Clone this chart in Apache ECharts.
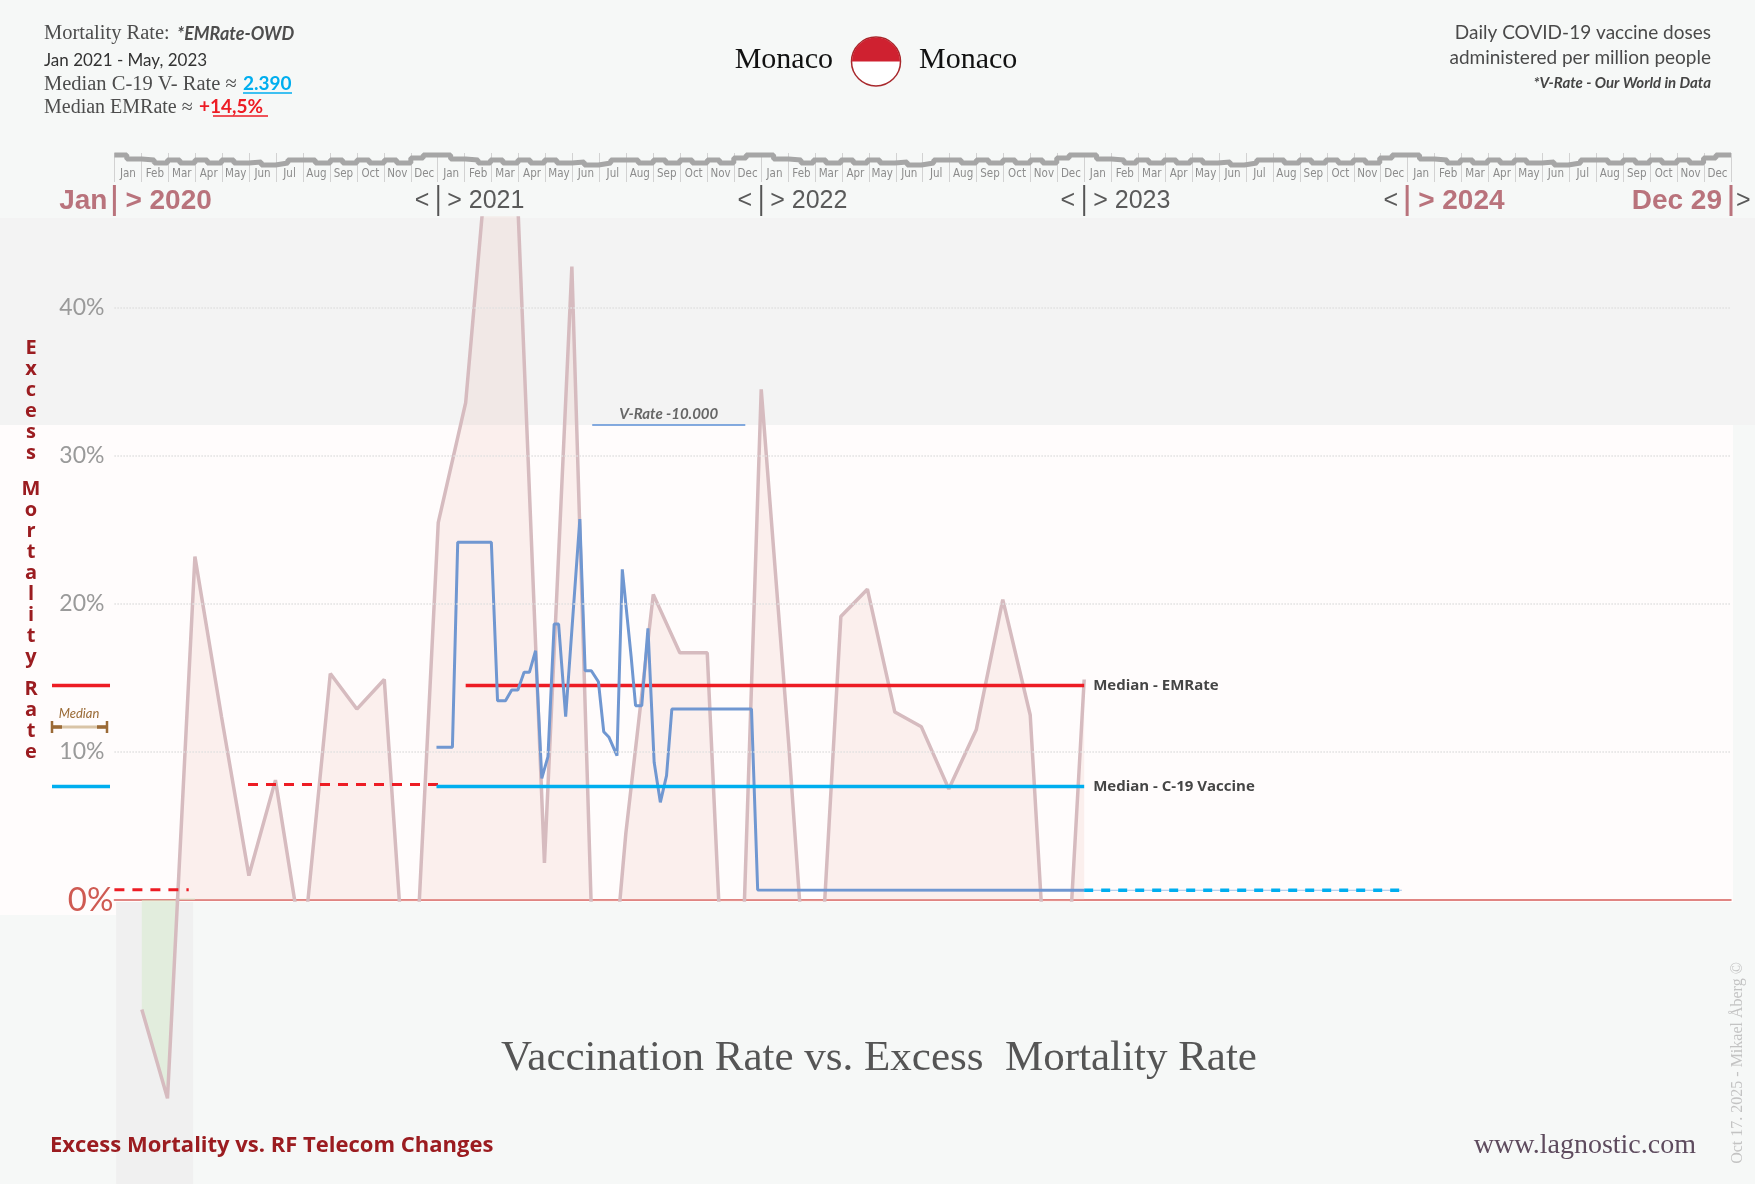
<!DOCTYPE html>
<html>
<head>
<meta charset="utf-8">
<title>Monaco - Vaccination Rate vs. Excess Mortality Rate</title>
<script src="https://cdn.jsdelivr.net/npm/echarts@6/dist/echarts.min.js"></script>
<style>
html, body { margin: 0; padding: 0; background: #f6f8f7; }
#chart { width: 1755px; height: 1184px; }
</style>
</head>
<body>
<div id="chart"></div>
<script>
// excess mortality rate (%), one point per month
var emDates = ['2020-02-01', '2020-03-01', '2020-04-01', '2020-05-01', '2020-06-01', '2020-07-01',
    '2020-08-01', '2020-09-01', '2020-10-01', '2020-11-01', '2020-12-01', '2021-01-01',
    '2021-02-01', '2021-03-01', '2021-04-01', '2021-05-01', '2021-06-01', '2021-07-01',
    '2021-08-01', '2021-09-01', '2021-10-01', '2021-11-01', '2021-12-01', '2022-01-01',
    '2022-02-01', '2022-03-01', '2022-04-01', '2022-05-01', '2022-06-01', '2022-07-01',
    '2022-08-01', '2022-09-01', '2022-10-01', '2022-11-01', '2022-12-01', '2023-01-01'];
var emValues = [-7.4, -13.4, 23.2, 12.4, 1.65, 8.1,
    -3.5, 15.3, 12.9, 14.9, -11.5, 25.5,
    33.6, 52.7, 46.9, 2.5, 42.8, -16.5,
    4.5, 20.65, 16.7, 16.7, -22, 34.5,
    10.6, -13.5, 19.15, 21.0, 12.7, 11.7,
    7.5, 11.5, 20.3, 12.5, -18, 14.9];

// daily covid-19 vaccine doses per million people
var vacDates = ['2020-12-30', '2021-01-17', '2021-01-23', '2021-03-02', '2021-03-09', '2021-03-18',
    '2021-03-25', '2021-04-01', '2021-04-08', '2021-04-14', '2021-04-21', '2021-04-28',
    '2021-05-05', '2021-05-12', '2021-05-17', '2021-05-25', '2021-05-27', '2021-06-10',
    '2021-06-16', '2021-06-23', '2021-07-01', '2021-07-07', '2021-07-13', '2021-07-22',
    '2021-07-28', '2021-08-07', '2021-08-12', '2021-08-19', '2021-08-26', '2021-09-02',
    '2021-09-09', '2021-09-16', '2021-09-22', '2021-12-21', '2021-12-28', '2023-01-01'];
var vacValues = [3214, 3214, 7530, 7530, 4196, 4196,
    4420, 4420, 4793, 4793, 5248, 2562,
    3017, 5810, 5810, 3859, 3859, 8020,
    4827, 4827, 4595, 3543, 3425, 3038,
    6961, 5122, 4090, 4090, 5719, 2899,
    2057, 2617, 4021, 4021, 210, 205];

// medians and reference levels
var emMedian = 14.5;
var emMedian2020 = 7.8;
var emMedianEarly = 0.7;
var vacMedian = 2390;
var vacTail = 205;
var vacRef = 10000;

var monthNames = ['Jan', 'Feb', 'Mar', 'Apr', 'May', 'Jun', 'Jul', 'Aug', 'Sep', 'Oct', 'Nov', 'Dec'];
var years = [2020, 2021, 2022, 2023, 2024];
// ruler band level for each month: [first half, second half]
var rulerLevels = [[7.5, 5.5], [5, 3.5], [5, 3.5], [5, 3.5], [5, 3.5], [4, 2.5],
    [3.5, 5], [5, 3.5], [5, 3.5], [5, 3.5], [5, 3.5], [6, 7.5]];

var SERIF = "'Liberation Serif', 'DejaVu Serif', serif";
var SANS = "Lato, 'Open Sans', sans-serif";
var HEAVY = "'Open Sans', Lato, sans-serif";
var ARIAL = "'Liberation Sans', Arial, sans-serif";
var MAUVE = '#b9737c';
var PINK = '#d6bbbf';

function zip(a, b) {
    return a.map(function (d, i) { return [d, b[i]]; });
}
function pad(n) { return n < 10 ? '0' + n : '' + n; }

var rulerData = [];
var monthCats = [];
years.forEach(function (y) {
    monthNames.forEach(function (m, i) {
        monthCats.push(m);
        rulerData.push([y + '-' + pad(i + 1) + '-01', rulerLevels[i][0]]);
        rulerData.push([y + '-' + pad(i + 1) + '-15', rulerLevels[i][1]]);
    });
});
rulerData.push(['2025-01-01', rulerLevels[0][0]]);

var X_MIN = '2020-01-01', X_MAX = '2025-01-01';
var EM_MAX = 46.08;
var VAC_MAX = 14358;

var chart = echarts.init(document.getElementById('chart'));

var option = {
    backgroundColor: '#f6f8f7',
    animation: false,
    grid: [
        {left: 114.4, right: 24, top: 218, height: 682},
        {left: 114.4, right: 24, top: 900, height: 284},
        {left: 114.4, right: 24, top: 150, height: 20},
        {left: 114.4, right: 24, top: 153, height: 29}
    ],
    xAxis: [
        {type: 'time', gridIndex: 0, min: X_MIN, max: X_MAX,
            axisLine: {show: true, lineStyle: {color: '#d65e5a', width: 1.5}},
            axisTick: {show: false}, axisLabel: {show: false}, splitLine: {show: false}},
        {type: 'time', gridIndex: 1, min: X_MIN, max: X_MAX, show: false},
        {type: 'time', gridIndex: 2, min: X_MIN, max: X_MAX, show: false},
        {type: 'category', gridIndex: 3, data: monthCats, boundaryGap: true,
            axisLine: {show: false}, axisTick: {show: false},
            splitLine: {show: true, lineStyle: {color: '#d2d2d2', width: 1}},
            axisLabel: {inside: true, interval: 0, margin: 2, fontSize: 11.5, color: '#8c8c8c',
                fontFamily: "'Liberation Sans Narrow', 'DejaVu Sans Condensed', sans-serif"}}
    ],
    yAxis: [
        {type: 'value', gridIndex: 0, min: 0, max: EM_MAX, interval: 10,
            axisLine: {show: false}, axisTick: {show: false}, splitLine: {show: false},
            axisLabel: {
                margin: 1,
                formatter: function (v) {
                    if (v === 0) return '{z|0%}';
                    return v % 10 === 0 ? '{n|' + v + '%}' : '';
                },
                rich: {
                    n: {fontSize: 23, color: '#9a9a9a', fontFamily: SANS, padding: [0, 9, 0, 0]},
                    z: {fontSize: 33, color: '#cf5a52', fontFamily: SANS}
                }
            }},
        {type: 'value', gridIndex: 0, min: 0, max: VAC_MAX, show: false},
        {type: 'value', gridIndex: 1, min: -19.19, max: 0, show: false},
        {type: 'value', gridIndex: 2, min: 0, max: 10, show: false},
        {type: 'value', gridIndex: 3, min: 0, max: 1, show: false}
    ],
    series: [
        {
            name: 'EMRate', type: 'line', xAxisIndex: 0, yAxisIndex: 0, z: 2,
            data: zip(emDates, emValues), symbol: 'none',
            lineStyle: {color: PINK, width: 3.5},
            areaStyle: {color: 'rgba(236,196,188,0.32)'},
            markLine: {
                silent: true, symbol: ['none', 'none'], label: {show: false},
                lineStyle: {type: 'dotted', color: '#e0e0e0', width: 1.5},
                data: [{yAxis: 10}, {yAxis: 20}, {yAxis: 30}, {yAxis: 40}]
            }
        },
        {
            name: 'EMRate 2020 below zero', type: 'line', xAxisIndex: 1, yAxisIndex: 2, z: 2,
            data: zip(emDates.slice(0, 3), emValues.slice(0, 3)), symbol: 'none',
            lineStyle: {color: PINK, width: 3.5},
            areaStyle: {color: 'rgba(214,234,204,0.75)', origin: 'end'}
        },
        {
            name: 'Median EMRate 2020 early', type: 'line', xAxisIndex: 0, yAxisIndex: 0, z: 3,
            data: [['2020-01-01', emMedianEarly], ['2020-03-25', emMedianEarly]], symbol: 'none',
            lineStyle: {color: '#ed1c24', width: 3, type: [10, 8]}
        },
        {
            name: 'Median EMRate 2020', type: 'line', xAxisIndex: 0, yAxisIndex: 0, z: 3,
            data: [['2020-05-31', emMedian2020], ['2021-01-01', emMedian2020]], symbol: 'none',
            lineStyle: {color: '#ed1c24', width: 3, type: [10, 8]}
        },
        {
            name: 'Median - EMRate', type: 'line', xAxisIndex: 0, yAxisIndex: 0, z: 3,
            data: [['2021-02-01', emMedian], ['2023-01-01', emMedian]], symbol: 'none',
            lineStyle: {color: '#ed1c24', width: 3.5},
            endLabel: {show: true, formatter: 'Median - EMRate', distance: 9,
                color: '#454545', fontSize: 15, fontWeight: 'bold', fontFamily: HEAVY}
        },
        {
            name: 'V-Rate', type: 'line', xAxisIndex: 0, yAxisIndex: 1, z: 4,
            data: zip(vacDates, vacValues), symbol: 'none',
            lineStyle: {color: '#7097d1', width: 3},
            markLine: {
                silent: true, symbol: ['none', 'none'],
                lineStyle: {color: '#5b8fd6', width: 1.5, type: 'solid'},
                label: {show: true, position: 'middle', formatter: 'V-Rate -10.000', distance: 3,
                    color: '#666', fontSize: 15, fontStyle: 'italic', fontWeight: 'bold', fontFamily: SANS},
                data: [[{coord: ['2021-06-24', vacRef]}, {coord: ['2021-12-14', vacRef]}]]
            }
        },
        {
            name: 'Median - C-19 Vaccine', type: 'line', xAxisIndex: 0, yAxisIndex: 1, z: 5,
            data: [['2020-12-30', vacMedian], ['2023-01-01', vacMedian]], symbol: 'none',
            lineStyle: {color: '#00aeef', width: 3.5},
            endLabel: {show: true, formatter: 'Median - C-19 Vaccine', distance: 9,
                color: '#454545', fontSize: 15, fontWeight: 'bold', fontFamily: HEAVY}
        },
        {
            name: 'V-Rate tail thin', type: 'line', xAxisIndex: 0, yAxisIndex: 1, z: 5,
            data: [['2023-01-01', vacTail], ['2023-12-26', vacTail]], symbol: 'none',
            lineStyle: {color: '#9fc3ea', width: 1.2}
        },
        {
            name: 'V-Rate tail', type: 'line', xAxisIndex: 0, yAxisIndex: 1, z: 5,
            data: [['2023-01-01', vacTail], ['2023-12-26', vacTail]], symbol: 'none',
            lineStyle: {color: '#00aeef', width: 3.5, type: [9, 8]}
        },
        {
            name: 'ruler', type: 'line', xAxisIndex: 2, yAxisIndex: 3, z: 2,
            data: rulerData, symbol: 'none', step: 'end',
            lineStyle: {color: '#a6a6a6', width: 5}
        }
    ]
};

chart.setOption(option);

// ----- decoration placed through the chart's own scales -----
var px = function (d, v) { return chart.convertToPixel({gridIndex: 0}, [d, v]); };
var xOf = function (d) { return px(d, 0)[0]; };
var yEm = function (v) { return chart.convertToPixel({yAxisIndex: 0}, v); };
var yVac = function (v) { return chart.convertToPixel({yAxisIndex: 1}, v); };

function txt(x, y, s, o) {
    o = o || {};
    return {
        type: 'text', z: 20, x: x, y: y, rotation: o.rotation || 0,
        style: {
            text: s, x: 0, y: 0,
            fill: o.color || '#444',
            fontSize: o.size || 18,
            fontFamily: o.family || SANS,
            fontWeight: o.weight || 'normal',
            fontStyle: o.style || 'normal',
            textAlign: o.align || 'left',
            textVerticalAlign: o.valign || 'middle',
            lineHeight: o.lineHeight
        }
    };
}
function seg(x1, y1, x2, y2, color, w, z) {
    return {type: 'line', z: z || 20, shape: {x1: x1, y1: y1, x2: x2, y2: y2},
        style: {stroke: color, lineWidth: w}};
}
function rect(x, y, w, h, fill) {
    return {type: 'rect', z: -5, shape: {x: x, y: y, width: w, height: h}, style: {fill: fill}};
}

var yTop = yEm(EM_MAX);
var yZero = yEm(0);
var yRef = yVac(vacRef);
var xStart = xOf(X_MIN);
var xEnd = xOf(X_MAX);

var g = [];
// background bands
g.push(rect(0, yTop, 1755, yRef - yTop, '#f3f3f3'));
g.push(rect(0, yRef, xEnd + 2, yZero - yRef + 2, '#fffcfc'));
g.push(rect(0, yZero, xStart + 2, 15, '#fffcfc'));
g.push(rect(xOf('2020-01-03'), yZero + 2, xOf('2020-03-30') - xOf('2020-01-03'), 1184 - yZero, '#f0f0f0'));

// header, left
g.push(txt(44, 34, 'Mortality Rate', {family: SERIF, size: 20.5, color: '#4d4d4d'}));
g.push(txt(164, 34, ':', {family: SERIF, size: 20, color: '#4d4d4d'}));
g.push(txt(177, 34, '*EMRate-OWD', {size: 18, weight: 'bold', style: 'italic', color: '#4d4d4d'}));
g.push(txt(44, 61, 'Jan 2021 - May, 2023', {size: 17, color: '#333'}));
g.push(txt(44, 85, 'Median C-19 V- Rate \u2248', {family: SERIF, size: 20.5, color: '#4d4d4d'}));
g.push(txt(243, 84, '2.390', {size: 19, weight: 'bold', color: '#00aeef'}));
g.push(seg(243, 93, 292, 93, '#00aeef', 1.5));
g.push(txt(44, 108, 'Median EMRate \u2248', {family: SERIF, size: 20, color: '#4d4d4d'}));
g.push(txt(199, 107, '+14,5%', {size: 19, weight: 'bold', color: '#ed1c24'}));
g.push(seg(213, 116, 268, 116, '#ed1c24', 1.5));

// header, centre
g.push(txt(833, 60, 'Monaco', {family: SERIF, size: 30, color: '#111', align: 'right'}));
g.push(txt(919, 60, 'Monaco', {family: SERIF, size: 30, color: '#111'}));
g.push({type: 'circle', z: 20, shape: {cx: 876, cy: 61.5, r: 24.5},
    style: {fill: '#ffffff', stroke: '#a8282c', lineWidth: 1.5}});
g.push({type: 'sector', z: 21, shape: {cx: 876, cy: 61.5, r: 24, startAngle: Math.PI, endAngle: 2 * Math.PI},
    style: {fill: '#cf2130'}});

// header, right
g.push(txt(1711, 33, 'Daily COVID-19 vaccine doses', {size: 19, color: '#4a4a4a', align: 'right'}));
g.push(txt(1711, 58, 'administered per million people', {size: 19, color: '#4a4a4a', align: 'right'}));
g.push(txt(1711, 83, '*V-Rate - Our World in Data', {size: 15, weight: 'bold', style: 'italic', color: '#444', align: 'right'}));

// year row
var yRow = 201;
years.forEach(function (y) {
    var xb = xOf(y + '-01-01');
    var strong = (y === 2020 || y === 2024);
    if (y === 2020) {
        g.push(txt(xb - 7, yRow, 'Jan', {family: ARIAL, size: 28, weight: 'bold', color: MAUVE, align: 'right'}));
    } else {
        g.push(txt(xb - 9, yRow, '<', {family: ARIAL, size: 25, color: '#5a5a5a', align: 'right'}));
    }
    g.push(seg(xb, 185, xb, 216, strong ? MAUVE : '#555', strong ? 3 : 2));
    if (strong) {
        g.push(txt(xb + 11, yRow, '> ' + y, {family: ARIAL, size: 28, weight: 'bold', color: MAUVE}));
    } else {
        g.push(txt(xb + 9, yRow, '> ' + y, {family: ARIAL, size: 25, color: '#5a5a5a'}));
    }
});
g.push(txt(xEnd - 9, yRow, 'Dec 29', {family: ARIAL, size: 28, weight: 'bold', color: MAUVE, align: 'right'}));
g.push(seg(xEnd, 185, xEnd, 216, MAUVE, 3));
g.push(txt(xEnd + 5, yRow, '>', {family: ARIAL, size: 25, color: '#5a5a5a'}));

// vertical axis name
var nameStyle = {size: 20, weight: 'bold', family: HEAVY, color: '#9b1c20', align: 'center', valign: 'top', lineHeight: 21};
g.push(txt(31, 338, 'Excess'.split('').join('\n'), nameStyle));
g.push(txt(31, 479, 'Mortality'.split('').join('\n'), nameStyle));
g.push(txt(31, 679, 'Rate'.split('').join('\n'), nameStyle));

// small median keys at the left
g.push(seg(52, yEm(emMedian), 110, yEm(emMedian), '#ed1c24', 3.5));
g.push(seg(52, yVac(vacMedian), 110, yVac(vacMedian), '#00aeef', 3.5));
g.push(txt(79, 714, 'Median', {size: 13, style: 'italic', color: '#9a6a35', align: 'center'}));
g.push(seg(52, 727, 107, 727, '#d9c4a6', 3));
g.push(seg(52, 727, 62, 727, '#9b6a36', 3.5));
g.push(seg(97, 727, 107, 727, '#9b6a36', 3.5));
g.push(seg(52, 721, 52, 733, '#9b6a36', 2.5));
g.push(seg(107, 721, 107, 733, '#9b6a36', 2.5));

// footer
g.push(txt(879, 1059, 'Vaccination Rate vs. Excess  Mortality Rate', {family: SERIF, size: 43, color: '#555', align: 'center'}));
g.push(txt(50, 1146, 'Excess Mortality vs. RF Telecom Changes', {size: 22, weight: 'bold', family: HEAVY, color: '#9b1c20'}));
g.push(txt(1696, 1146, 'www.lagnostic.com', {family: SERIF, size: 28, color: '#5e4b5e', align: 'right'}));
g.push(txt(1738, 1063, 'Oct 17. 2025 - Mikael \u00c5berg \u00a9', {family: SERIF, size: 16, color: '#c3c3c3', align: 'center', rotation: Math.PI / 2}));

chart.setOption({graphic: {elements: g}});
</script>
</body>
</html>
